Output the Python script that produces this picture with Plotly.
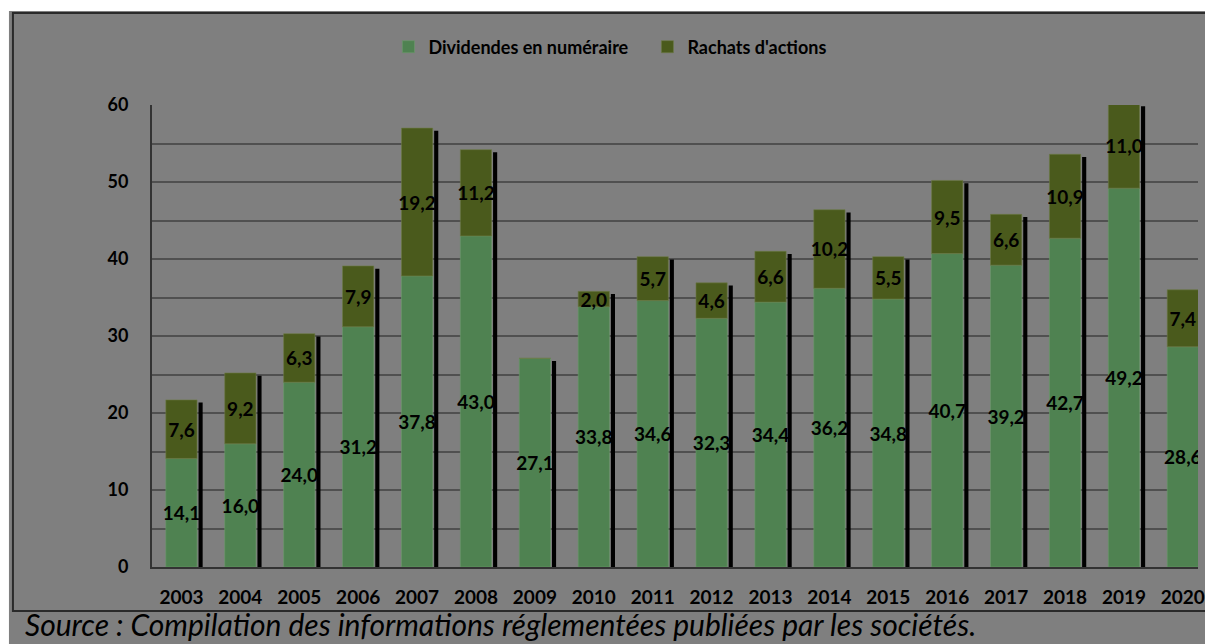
import plotly.graph_objects as go

years = ["2003", "2004", "2005", "2006", "2007", "2008", "2009", "2010", "2011",
         "2012", "2013", "2014", "2015", "2016", "2017", "2018", "2019", "2020"]
dividendes = [14.1, 16.0, 24.0, 31.2, 37.8, 43.0, 27.1, 33.8, 34.6,
              32.3, 34.4, 36.2, 34.8, 40.7, 39.2, 42.7, 49.2, 28.6]
rachats = [7.6, 9.2, 6.3, 7.9, 19.2, 11.2, 0.0, 2.0, 5.7,
           4.6, 6.6, 10.2, 5.5, 9.5, 6.6, 10.9, 11.0, 7.4]
y_ticks = [0, 10, 20, 30, 40, 50, 60]

BG = "#7f7f7f"
GREEN = "#4f8251"
OLIVE = "#4a5a1c"
GRID = "#505050"
FONT = "Lato"


def fmt(v):
    return "" if v == 0 else f"{v:.1f}".replace(".", ",")


totals = [d + r for d, r in zip(dividendes, rachats)]

W, H = 1205, 644
ML, MR, MT, MB = 152, 0, 105, 77
PW, PH = W - ML - MR, H - MT - MB
SLOT = 59.3


def px_x(fx):
    return (fx - ML) / PW


def px_y(fy):
    return (H - MB - fy) / PH


BAR_W = 0.53
fig = go.Figure()

# shadow bars (3D effect) behind
fig.add_trace(go.Bar(
    x=years, y=[t - 0.35 for t in totals], width=0.07, offset=0.29,
    marker=dict(color="black", line=dict(width=0)),
    showlegend=False, hoverinfo="skip",
))

fig.add_trace(go.Bar(
    name="Dividendes en numéraire", x=years, y=dividendes,
    width=BAR_W, offset=-BAR_W / 2,
    marker=dict(color=GREEN, line=dict(color="#6a9a6a", width=0.6)),
    text=[fmt(v) for v in dividendes], textposition="inside",
    insidetextanchor="middle", textangle=0, constraintext="none",
    textfont=dict(family=FONT, size=19, color="black", weight="bold"),
))

fig.add_trace(go.Bar(
    name="Rachats d'actions", x=years, y=rachats, base=dividendes,
    width=BAR_W, offset=-BAR_W / 2,
    marker=dict(color=OLIVE, line=dict(color="#6b7a45", width=0.6)),
    text=[fmt(v) for v in rachats], textposition="inside",
    insidetextanchor="middle", textangle=0, constraintext="none",
    textfont=dict(family=FONT, size=19, color="black", weight="bold"),
))

fig.update_layout(
    width=W, height=H,
    margin=dict(l=ML, r=MR, t=MT, b=MB, pad=0),
    paper_bgcolor="white", plot_bgcolor=BG,
    barmode="overlay",
    font=dict(family=FONT, color="black"),
    legend=dict(
        orientation="h", x=px_x(390), y=px_y(47), xanchor="left", yanchor="middle",
        font=dict(family=FONT, size=18, color="black", weight="bold"),
        bgcolor="rgba(0,0,0,0)", itemwidth=30, traceorder="normal",
        entrywidth=214,
    ),
    xaxis=dict(
        type="category", range=[-0.5, -0.5 + PW / SLOT],
        showline=True, linecolor="#333333", linewidth=1.5,
        showgrid=False, ticks="",
        tickfont=dict(family=FONT, size=19, color="black", weight="bold"),
        ticklabelstandoff=12,
    ),
    yaxis=dict(
        range=[0, 60], tickvals=y_ticks,
        showline=True, linecolor="#333333", linewidth=2,
        showgrid=True, gridcolor=GRID, gridwidth=2,
        minor=dict(dtick=5, showgrid=True, gridcolor=GRID, gridwidth=2),
        zeroline=False, ticks="",
        tickfont=dict(family=FONT, size=18, color="black", weight="bold"),
        ticklabelstandoff=18,
    ),
    shapes=[
        dict(type="rect", xref="paper", yref="paper",
             x0=px_x(8), x1=px_x(W + 20), y0=px_y(H + 20), y1=px_y(11),
             line=dict(width=0), fillcolor=BG, layer="below"),
        dict(type="rect", xref="paper", yref="paper",
             x0=px_x(12), x1=px_x(W + 20), y0=px_y(611), y1=px_y(13),
             line=dict(color="#2a2a2a", width=2), fillcolor="rgba(0,0,0,0)", layer="below"),
    ],
    annotations=[dict(
        text="Source : Compilation des informations réglementées publiées par les sociétés.",
        xref="paper", yref="paper", x=px_x(22), y=px_y(624),
        xanchor="left", yanchor="middle", showarrow=False,
        font=dict(family=FONT, size=30, color="black", style="italic"),
    )],
)

fig.write_html(
    "out.html",
    config={"displayModeBar": False},
    post_script="document.documentElement.style.overflow='hidden';document.body.style.margin='0';",
)
